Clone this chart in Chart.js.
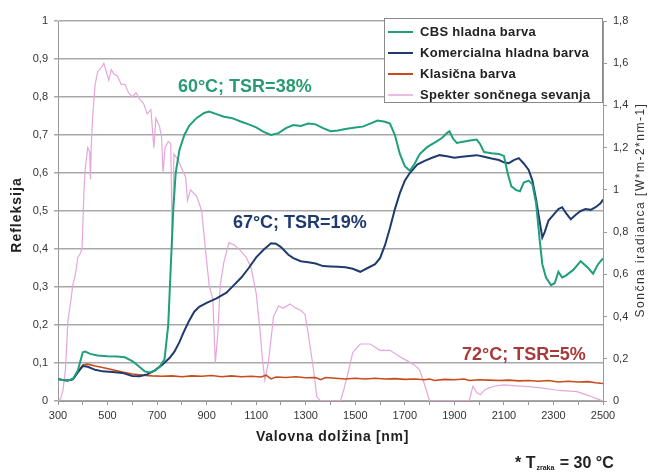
<!DOCTYPE html>
<html>
<head>
<meta charset="utf-8">
<script src="https://cdn.jsdelivr.net/npm/chart.js@4.4.1/dist/chart.umd.min.js"></script>
<style>
body{margin:0;background:#fff;}
</style>
</head>
<body>
<canvas id="reflChart" width="650" height="475"></canvas>
<script>

// CBS hladna barva
const cbsNm = [300,320,340,360,380,400,410,430,460,500,540,570,600,620,650,670,690,710,730,745,755,765,775,790,810,830,860,890,910,940,970,1000,1040,1070,1100,1130,1160,1190,1220,1250,1280,1310,1340,1370,1400,1430,1460,1500,1530,1560,1590,1620,1640,1660,1680,1700,1720,1740,1760,1790,1820,1850,1870,1880,1895,1910,1940,1970,1990,2005,2020,2050,2080,2100,2115,2130,2150,2165,2180,2200,2215,2230,2245,2255,2270,2290,2305,2320,2335,2350,2380,2410,2440,2460,2480,2500];
const cbsR = [0.058,0.055,0.054,0.058,0.08,0.128,0.13,0.124,0.12,0.118,0.117,0.115,0.105,0.095,0.078,0.075,0.08,0.09,0.11,0.2,0.35,0.5,0.6,0.66,0.7,0.725,0.745,0.758,0.762,0.755,0.748,0.745,0.735,0.728,0.72,0.708,0.7,0.705,0.718,0.726,0.724,0.73,0.728,0.718,0.71,0.712,0.716,0.72,0.722,0.73,0.738,0.735,0.73,0.7,0.65,0.618,0.606,0.625,0.65,0.668,0.68,0.692,0.705,0.71,0.69,0.679,0.683,0.686,0.688,0.675,0.655,0.652,0.65,0.645,0.6,0.565,0.555,0.552,0.575,0.58,0.57,0.52,0.42,0.36,0.325,0.305,0.31,0.34,0.325,0.33,0.345,0.368,0.35,0.335,0.36,0.375];

// Komercialna hladna barva
const komNm = [300,320,340,360,380,400,420,450,480,520,560,600,630,660,690,720,750,770,790,810,830,850,870,900,940,980,1010,1040,1070,1100,1130,1160,1180,1200,1230,1250,1280,1310,1340,1370,1400,1430,1460,1490,1520,1550,1580,1600,1620,1640,1660,1680,1700,1720,1750,1780,1810,1840,1870,1900,1930,1960,1990,2020,2050,2080,2100,2120,2140,2160,2180,2200,2215,2230,2245,2255,2265,2280,2300,2320,2335,2350,2370,2390,2410,2430,2450,2470,2490,2500];
const komR = [0.058,0.055,0.054,0.057,0.075,0.092,0.09,0.082,0.078,0.076,0.074,0.066,0.065,0.07,0.08,0.095,0.113,0.13,0.155,0.185,0.212,0.235,0.248,0.258,0.27,0.285,0.305,0.325,0.35,0.378,0.398,0.415,0.414,0.405,0.385,0.376,0.368,0.365,0.362,0.355,0.354,0.353,0.352,0.348,0.34,0.35,0.36,0.376,0.41,0.455,0.505,0.547,0.58,0.6,0.622,0.632,0.64,0.647,0.644,0.64,0.643,0.645,0.647,0.643,0.638,0.634,0.628,0.626,0.634,0.639,0.625,0.608,0.58,0.53,0.47,0.43,0.445,0.475,0.49,0.505,0.51,0.495,0.478,0.49,0.5,0.505,0.503,0.51,0.52,0.53];

// Klasična barva
const klasNm = [300,320,340,360,380,400,420,450,480,520,560,600,640,680,720,760,800,840,880,920,960,1000,1040,1080,1120,1140,1160,1180,1220,1260,1300,1340,1360,1380,1420,1460,1500,1540,1580,1620,1660,1700,1740,1780,1800,1820,1860,1900,1940,1960,2000,2040,2080,2120,2160,2200,2240,2280,2320,2360,2400,2440,2470,2500];
const klasR = [0.058,0.055,0.054,0.057,0.078,0.095,0.097,0.092,0.088,0.082,0.076,0.071,0.068,0.066,0.065,0.066,0.064,0.066,0.065,0.067,0.064,0.066,0.064,0.065,0.063,0.068,0.058,0.063,0.062,0.064,0.061,0.062,0.056,0.062,0.06,0.058,0.06,0.058,0.06,0.058,0.059,0.057,0.058,0.056,0.058,0.054,0.057,0.056,0.058,0.054,0.056,0.055,0.054,0.055,0.053,0.054,0.052,0.054,0.05,0.052,0.05,0.051,0.048,0.046];

// Spekter sončnega sevanja (desna os)
const sunNm = [300,310,320,330,340,350,360,370,380,390,397,405,410,420,428,431,434,440,450,460,475,485,495,505,515,525,540,555,570,585,600,615,630,645,660,675,687,695,710,718,724,732,745,755,761,768,785,800,815,823,835,860,880,895,910,925,935,945,955,970,990,1010,1035,1060,1080,1100,1115,1125,1135,1150,1170,1190,1210,1237,1260,1280,1297,1310,1330,1345,1360,1440,1455,1470,1490,1520,1560,1600,1640,1680,1710,1740,1760,1782,1800,1960,1975,1990,2005,2020,2035,2060,2100,2150,2200,2250,2310,2350,2395,2430,2460,2490,2500];
const sunIrr = [0,0.01,0.05,0.15,0.38,0.46,0.55,0.6,0.68,0.7,0.72,1.0,1.1,1.2,1.18,1.05,1.2,1.35,1.5,1.56,1.58,1.6,1.56,1.52,1.57,1.55,1.54,1.5,1.5,1.46,1.44,1.46,1.43,1.41,1.36,1.38,1.2,1.34,1.3,1.25,1.08,1.2,1.23,1.22,0.72,1.17,1.14,1.1,1.06,0.95,1.0,0.97,0.9,0.72,0.55,0.48,0.18,0.32,0.55,0.66,0.75,0.74,0.715,0.68,0.63,0.51,0.34,0.2,0.1,0.19,0.4,0.45,0.44,0.46,0.44,0.43,0.41,0.32,0.16,0.02,0,0,0.06,0.13,0.23,0.27,0.27,0.24,0.24,0.21,0.19,0.17,0.147,0.07,0,0,0.07,0.04,0.03,0.05,0.06,0.07,0.076,0.072,0.068,0.062,0.052,0.048,0.044,0.03,0.018,0.004,0];

const seriesNames = ["CBS hladna barva","Komercialna hladna barva","Klasična barva","Spekter sončnega sevanja"];
const seriesColors = ["#1f9f7a","#1f3b6e","#c84b1e","#e6a6dc"];

const fontFam = "'Liberation Sans', Arial, sans-serif";

function toPoints(xs, ys){
    return xs.map((x,i)=>({x:x, y:ys[i]}));
}

function commaNum(v){
    return String(Math.round(v*10)/10).replace(".", ",");
}

function spacedText(ctx, text, x, y, spacing){
    ctx.letterSpacing = spacing + "px";
    ctx.fillText(text, x, y);
    ctx.letterSpacing = "0px";
}

// texts drawn on top of the chart: annotations, legend, titles
const extrasPlugin = {
    id:"extras",
    afterDraw(chart){

        const ctx = chart.ctx;
        const area = chart.chartArea;
        const xs = chart.scales.x;
        const ys = chart.scales.y;

        ctx.save();

        // TSR notes
        const notes = [
            {text:"60°C; TSR=38%", nm:784, r:0.827, color:"#2a9a72"},
            {text:"67°C; TSR=19%", nm:1006, r:0.468, color:"#1f3b6e"},
            {text:"72°C; TSR=5%", nm:1931, r:0.121, color:"#a83a3a"}
        ];
        ctx.font = "bold 18px " + fontFam;
        ctx.textAlign = "left";
        ctx.textBaseline = "middle";
        notes.forEach(n=>{
            ctx.fillStyle = n.color;
            ctx.fillText(n.text, xs.getPixelForValue(n.nm), ys.getPixelForValue(n.r));
        });

        // legend box
        const bx = 384, by = area.top - 3, bw = area.right - 384, bh = 85;
        ctx.fillStyle = "#fff";
        ctx.fillRect(bx, by, bw, bh);
        ctx.strokeStyle = "#8a8a8a";
        ctx.lineWidth = 1;
        ctx.strokeRect(bx + 0.5, by + 0.5, bw - 1, bh - 1);

        ctx.font = "bold 13px " + fontFam;
        ctx.textBaseline = "middle";
        seriesNames.forEach((name,i)=>{
            const ry = by + 14 + i*21;
            ctx.strokeStyle = seriesColors[i];
            ctx.lineWidth = i===3 ? 1.5 : 2;
            ctx.beginPath();
            ctx.moveTo(388, ry);
            ctx.lineTo(413, ry);
            ctx.stroke();
            ctx.fillStyle = "#222";
            spacedText(ctx, name, 420, ry, 0.3);
        });

        // axis titles
        ctx.fillStyle = "#222";
        ctx.textAlign = "center";
        ctx.font = "bold 14px " + fontFam;
        spacedText(ctx, "Valovna dolžina [nm]", (area.left + area.right)/2 + 2, 437, 0.7);

        ctx.save();
        ctx.translate(17, 215);
        ctx.rotate(-Math.PI/2);
        spacedText(ctx, "Refleksija", 0, 0, 1);
        ctx.restore();

        ctx.save();
        ctx.translate(641, 210);
        ctx.rotate(-Math.PI/2);
        ctx.font = "12px " + fontFam;
        ctx.fillStyle = "#333";
        spacedText(ctx, "Sončna iradianca [W*m-2*nm-1]", 0, 0, 1.5);
        ctx.restore();

        // footnote
        ctx.textAlign = "left";
        ctx.textBaseline = "alphabetic";
        ctx.fillStyle = "#222";
        ctx.font = "bold 16px " + fontFam;
        ctx.fillText("* T", 515, 468);
        let fx = 515 + ctx.measureText("* T").width;
        ctx.font = "bold 7px " + fontFam;
        ctx.fillText("zraka", fx + 1, 470);
        fx += ctx.measureText("zraka").width + 2;
        ctx.font = "bold 16px " + fontFam;
        ctx.fillText(" = 30 °C", fx, 468);

        ctx.restore();
    }
};

function buildChart(){

    Chart.defaults.font.family = fontFam;
    Chart.defaults.color = "#333";

    const sets = [
        toPoints(cbsNm, cbsR),
        toPoints(komNm, komR),
        toPoints(klasNm, klasR),
        toPoints(sunNm, sunIrr)
    ];

    new Chart(
        document.getElementById("reflChart"),
        {
            type:"line",
            data:{
                datasets: sets.map((pts,i)=>({
                    label: seriesNames[i],
                    data: pts,
                    borderColor: seriesColors[i],
                    borderWidth: i===3 ? 1.2 : (i===2 ? 1.6 : 2),
                    pointRadius: 0,
                    tension: 0,
                    fill: false,
                    yAxisID: i===3 ? "y2" : "y"
                }))
            },
            options:{
                responsive:false,
                animation:false,
                layout:{padding:{left:0, right:0, top:21, bottom:0}},
                plugins:{
                    legend:{display:false},
                    tooltip:{enabled:false}
                },
                scales:{
                    x:{
                        type:"linear",
                        min:300,
                        max:2500,
                        afterFit: s => { s.height = 74; },
                        grid:{drawOnChartArea:false, tickLength:4, color:"#999"},
                        border:{color:"#999", width:1},
                        ticks:{
                            stepSize:100,
                            autoSkip:false,
                            maxRotation:0,
                            padding:4,
                            font:{size:11},
                            callback: v => ((v-300)%200===0 ? String(v) : "")
                        }
                    },
                    y:{
                        position:"left",
                        min:0,
                        max:1,
                        afterFit: s => { s.width = 58; },
                        grid:{color:"#a8a8a8", lineWidth:1.5, tickLength:4},
                        border:{color:"#999", width:1},
                        ticks:{
                            stepSize:0.1,
                            padding:6,
                            font:{size:11},
                            callback: v => commaNum(v)
                        }
                    },
                    y2:{
                        position:"right",
                        min:0,
                        max:1.8,
                        afterFit: s => { s.width = 47; },
                        grid:{drawOnChartArea:false, tickLength:4, color:"#999"},
                        border:{color:"#999", width:1},
                        ticks:{
                            stepSize:0.2,
                            padding:6,
                            font:{size:11},
                            callback: v => commaNum(v)
                        }
                    }
                }
            },
            plugins:[extrasPlugin]
        }
    );

}

buildChart();

</script>
</body>
</html>
